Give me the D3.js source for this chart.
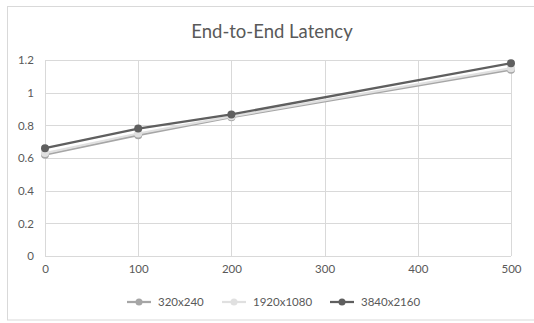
<!DOCTYPE html>
<html><head><meta charset="utf-8">
<script src="https://cdn.jsdelivr.net/npm/d3@7"></script>
<style>body{margin:0;background:#fff;}svg{display:block;font-family:Lato,"Open Sans",sans-serif;}</style>
</head><body>
<svg id="c" width="534" height="323"></svg>
<script>
const xValues = [0, 100, 200, 500];
const seriesNames = ["320x240", "1920x1080", "3840x2160"];
const s320 = [0.62, 0.74, 0.85, 1.14];
const s1920 = [0.63, 0.75, 0.855, 1.15];
const s3840 = [0.66, 0.78, 0.867, 1.18];
const xTicks = [0, 100, 200, 300, 400, 500];
const yTicks = [0, 0.2, 0.4, 0.6, 0.8, 1, 1.2];
const colors = ["#a6a6a6", "#e0e0e0", "#5f5f5f"];
const series = [s320, s1920, s3840];

const svg = d3.select("#c");
svg.append("rect").attr("x",7.5).attr("y",6.5).attr("width",540).attr("height",313.5)
  .attr("fill","#fff").attr("stroke","#d9d9d9");

const x = d3.scaleLinear().domain([0,500]).range([45,511]);
const y = d3.scaleLinear().domain([0,1.2]).range([256,60]);

svg.append("text").attr("x",272).attr("y",38).attr("text-anchor","middle")
  .attr("font-size",18.5).attr("fill","#595959").text("End-to-End Latency");

const g = svg.append("g");
g.selectAll(".hg").data(yTicks).join("line")
  .attr("x1",x(0)).attr("x2",x(500)).attr("y1",d=>Math.round(y(d))+0.5).attr("y2",d=>Math.round(y(d))+0.5)
  .attr("stroke","#d9d9d9").attr("stroke-width",1);
g.selectAll(".vg").data(xTicks).join("line")
  .attr("y1",y(0)).attr("y2",y(1.2)).attr("x1",d=>Math.round(x(d))+0.5).attr("x2",d=>Math.round(x(d))+0.5)
  .attr("stroke","#d9d9d9").attr("stroke-width",1);

const yAxis = d3.axisLeft(y).tickValues(yTicks).tickSize(0).tickPadding(11).tickFormat(d=>String(+d.toFixed(1)));
svg.append("g").attr("transform",`translate(${x(0)},0)`).call(yAxis)
  .call(a=>a.select(".domain").remove())
  .call(a=>a.selectAll("text").attr("font-size",11.5).attr("fill","#595959").attr("font-family","Lato,'Open Sans',sans-serif"));
const xAxis = d3.axisBottom(x).tickValues(xTicks).tickSize(0).tickPadding(9).tickFormat(d3.format("d"));
svg.append("g").attr("transform",`translate(0,${y(0)})`).call(xAxis)
  .call(a=>a.select(".domain").remove())
  .call(a=>a.selectAll("text").attr("font-size",11.5).attr("fill","#595959").attr("font-family","Lato,'Open Sans',sans-serif"));

const line = d3.line().x((d,i)=>x(xValues[i])).y(d=>y(d));
series.forEach((s,k)=>{
  svg.append("path").datum(s).attr("d",line).attr("fill","none")
    .attr("stroke",colors[k]).attr("stroke-width",2.25);
  svg.selectAll(null).data(s).join("circle")
    .attr("cx",(d,i)=>x(xValues[i])).attr("cy",d=>y(d)).attr("r",4)
    .attr("fill",colors[k]);
});

const legX = [127, 222, 330];
seriesNames.forEach((n,k)=>{
  const lg = svg.append("g").attr("transform",`translate(${legX[k]},302)`);
  lg.append("line").attr("x1",0).attr("x2",24).attr("y1",0).attr("y2",0).attr("stroke",colors[k]).attr("stroke-width",2.25);
  lg.append("circle").attr("cx",12).attr("cy",0).attr("r",3.5).attr("fill",colors[k]);
  lg.append("text").attr("x",31).attr("y",4).attr("font-size",11.5).attr("fill","#595959").text(n);
});
</script>
</body></html>
